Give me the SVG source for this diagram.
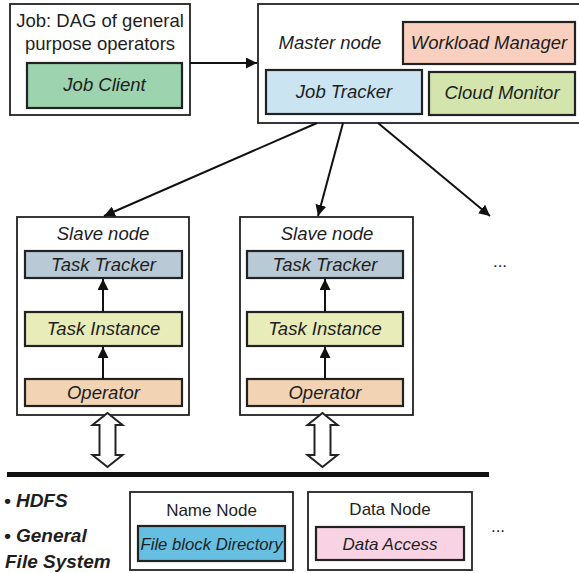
<svg xmlns="http://www.w3.org/2000/svg" width="579" height="573" viewBox="0 0 579 573">
<style>
text{font-family:"Liberation Sans",Arial,sans-serif;fill:#1e1e1e;}
.t{font-size:18.5px;font-style:italic;text-anchor:middle;}
.p{font-size:18.5px;text-anchor:middle;}
.s{font-size:17px;text-anchor:middle;}
.si{font-size:17px;font-style:italic;text-anchor:middle;}
.b{font-size:19px;font-weight:bold;font-style:italic;}
.outer{fill:#fff;stroke:#222;stroke-width:1.8;}
.inner{stroke:#222;stroke-width:2.2;}
.conn{stroke:#111;stroke-width:2;fill:none;}
.dbl{fill:#fff;stroke:#222;stroke-width:2;stroke-linejoin:miter;}
</style>
<defs>
<marker id="ah" viewBox="0 0 10 10" refX="10" refY="5" markerWidth="5.5" markerHeight="5.5" orient="auto" markerUnits="strokeWidth">
<path d="M0,0 L10,5 L0,10 Z" fill="#111"/>
</marker>
</defs>
<rect width="579" height="573" fill="#fff"/>

<g id="job">
<rect class="outer" x="10" y="4" width="180" height="111"/>
<text class="p" x="100" y="27">Job: DAG of general</text>
<text class="p" x="100" y="50">purpose operators</text>
<g id="job-client">
<rect class="inner" x="27" y="63" width="155" height="45" fill="#9dd3ae"/>
<text class="t" x="104.5" y="91">Job Client</text>
</g>
</g>

<g id="master">
<rect class="outer" x="258" y="4" width="324" height="119"/>
<text class="t" x="330" y="49">Master node</text>
<g id="workload-manager">
<rect class="inner" x="403" y="22" width="172" height="42" fill="#f9d0bf"/>
<text class="t" x="489" y="49">Workload Manager</text>
</g>
<g id="job-tracker">
<rect class="inner" x="266" y="70" width="156" height="44" fill="#cbe4f2"/>
<text class="t" x="344" y="98">Job Tracker</text>
</g>
<g id="cloud-monitor">
<rect class="inner" x="429" y="72" width="146" height="43" fill="#d3e5ad"/>
<text class="t" x="502" y="99">Cloud Monitor</text>
</g>
</g>

<g id="slave1">
<rect class="outer" x="17" y="217" width="172" height="198"/>
<text class="t" x="103" y="240">Slave node</text>
<g id="slave1-task-tracker">
<rect class="inner" x="25" y="251" width="157" height="27" fill="#b9cad6"/>
<text class="t" x="103.5" y="271">Task Tracker</text>
</g>
<g id="slave1-task-instance">
<rect class="inner" x="25" y="312" width="157" height="34" fill="#e7ecb8"/>
<text class="t" x="103.5" y="335">Task Instance</text>
</g>
<g id="slave1-operator">
<rect class="inner" x="25" y="379" width="157" height="27" fill="#f2d3b4"/>
<text class="t" x="103.5" y="399">Operator</text>
</g>
</g>

<g id="slave2">
<rect class="outer" x="240" y="217" width="173" height="198"/>
<text class="t" x="327" y="240">Slave node</text>
<g id="slave2-task-tracker">
<rect class="inner" x="247" y="251" width="156" height="27" fill="#b9cad6"/>
<text class="t" x="325" y="271">Task Tracker</text>
</g>
<g id="slave2-task-instance">
<rect class="inner" x="247" y="312" width="156" height="34" fill="#e7ecb8"/>
<text class="t" x="325" y="335">Task Instance</text>
</g>
<g id="slave2-operator">
<rect class="inner" x="247" y="379" width="156" height="27" fill="#f2d3b4"/>
<text class="t" x="325" y="399">Operator</text>
</g>
</g>

<g id="more-slaves">
<text class="s" x="500" y="267">...</text>
</g>

<g id="connectors">
<line class="conn" x1="190" y1="63" x2="257" y2="63" marker-end="url(#ah)"/>
<line class="conn" x1="317" y1="123" x2="104" y2="216" marker-end="url(#ah)"/>
<line class="conn" x1="343" y1="123" x2="318" y2="216" marker-end="url(#ah)"/>
<line class="conn" x1="378" y1="123" x2="490" y2="216" stroke-width="1.6" marker-end="url(#ah)"/>
<line class="conn" x1="103" y1="379" x2="103" y2="347" marker-end="url(#ah)"/>
<line class="conn" x1="103" y1="312" x2="103" y2="279" marker-end="url(#ah)"/>
<line class="conn" x1="325" y1="379" x2="325" y2="347" marker-end="url(#ah)"/>
<line class="conn" x1="325" y1="312" x2="325" y2="279" marker-end="url(#ah)"/>
<path class="dbl" d="M107.5,413 L122.5,425 L115.5,425 L115.5,455 L122.5,455 L107.5,467 L92.5,455 L99.5,455 L99.5,425 L92.5,425 Z"/>
<path class="dbl" d="M322.5,413 L337.5,425 L330.5,425 L330.5,455 L337.5,455 L322.5,467 L307.5,455 L314.5,455 L314.5,425 L307.5,425 Z"/>
</g>

<g id="bus">
<rect x="7" y="472" width="482" height="5" fill="#111"/>
</g>

<g id="fs-labels">
<text class="b" x="4" y="507">• HDFS</text>
<text class="b" x="4" y="542">• General</text>
<text class="b" x="5" y="568">File System</text>
</g>

<g id="name-node">
<rect class="outer" x="130" y="492" width="163" height="78"/>
<text class="s" x="211.5" y="516">Name Node</text>
<g id="file-block-directory">
<rect class="inner" x="138" y="526" width="147" height="35" fill="#66bfe0"/>
<text class="si" x="211.5" y="550" textLength="142" lengthAdjust="spacingAndGlyphs">File block Directory</text>
</g>
</g>

<g id="data-node">
<rect class="outer" x="308" y="492" width="164" height="78"/>
<text class="s" x="390" y="515">Data Node</text>
<g id="data-access">
<rect class="inner" x="316" y="527" width="148" height="33" fill="#f7d3e3"/>
<text class="si" x="390" y="550">Data Access</text>
</g>
</g>

<g id="more-data">
<text class="s" x="498" y="532">...</text>
</g>
</svg>
